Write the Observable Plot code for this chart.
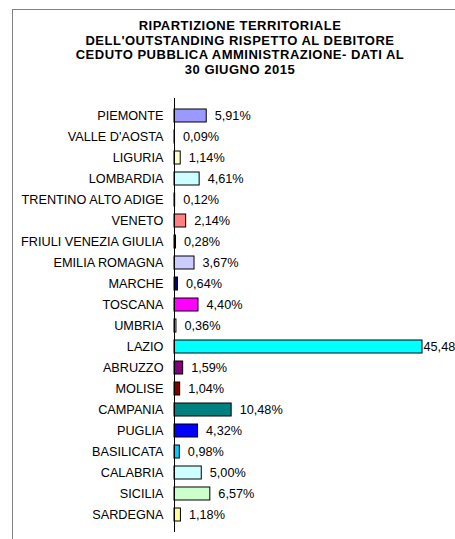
<!DOCTYPE html>
<html>
<head>
<meta charset="utf-8">
<script src="https://cdn.jsdelivr.net/npm/d3@7"></script>
<script src="https://cdn.jsdelivr.net/npm/@observablehq/plot@0.6"></script>
<style>
  body { margin: 0; background: #fff; }
  #wrap { position: relative; width: 455px; height: 539px; overflow: hidden; font-family: Arial, "Liberation Sans", sans-serif; }
  #frame { position: absolute; left: 12px; top: 9px; right: -2px; bottom: -2px; border-top: 1px solid #808080; border-left: 1px solid #808080; }
  #title { position: absolute; left: 20px; width: 440px; top: 19px; text-align: center; font-weight: bold; font-size: 13px; line-height: 14.5px; letter-spacing: 0.5px; color: #000; }
  #chart { position: absolute; left: 0; top: 0; }
</style>
</head>
<body>
<div id="wrap">
  <div id="frame"></div>
  <div id="title">RIPARTIZIONE TERRITORIALE<br>DELL'OUTSTANDING RISPETTO AL DEBITORE<br>CEDUTO PUBBLICA AMMINISTRAZIONE- DATI AL<br>30 GIUGNO 2015</div>
  <div id="chart"></div>
</div>
<script>
const regions = ["PIEMONTE","VALLE D'AOSTA","LIGURIA","LOMBARDIA","TRENTINO ALTO ADIGE","VENETO","FRIULI VENEZIA GIULIA","EMILIA ROMAGNA","MARCHE","TOSCANA","UMBRIA","LAZIO","ABRUZZO","MOLISE","CAMPANIA","PUGLIA","BASILICATA","CALABRIA","SICILIA","SARDEGNA"];
const values = [5.91,0.09,1.14,4.61,0.12,2.14,0.28,3.67,0.64,4.40,0.36,45.48,1.59,1.04,10.48,4.32,0.98,5.00,6.57,1.18];
const colors = ["#9999FF","#993366","#FFFFCC","#CCFFFF","#660066","#FF8080","#0066CC","#CCCCFF","#000080","#FF00FF","#FFFF00","#00FFFF","#800080","#800000","#008080","#0000FF","#00CCFF","#CCFFFF","#CCFFCC","#FFFF99"];

const data = regions.map((r, i) => ({region: r, value: values[i], color: colors[i]}));
const fmt = v => v.toFixed(2).replace(".", ",") + "%";
const maxV = d3.max(values);

const chart = Plot.plot({
  width: 455,
  height: 539,
  marginLeft: 174,
  marginRight: 33,
  marginTop: 98,
  marginBottom: 7,
  style: {fontFamily: "Arial, 'Liberation Sans', sans-serif", fontSize: "12.7px", color: "#000", background: "transparent", overflow: "hidden"},
  x: {domain: [0, maxV], axis: null},
  y: {domain: regions, paddingInner: 0.37, paddingOuter: 0.185, axis: null},
  color: {type: "identity"},
  marks: [
    Plot.barX(data, {x: "value", y: "region", fill: "color", stroke: "#000", strokeWidth: 1}),
    Plot.ruleX([0], {stroke: "#000", strokeWidth: 1}),
    Plot.axisY({tickSize: 0, tickPadding: 11, fontSize: 12.7, label: null}),
    Plot.text(data.filter(d => d.value < maxV), {x: "value", y: "region", text: d => fmt(d.value), dx: 8, textAnchor: "start", fontSize: 12.7, fill: "#000"}),
    Plot.text(data.filter(d => d.value === maxV), {x: "value", y: "region", text: d => fmt(d.value), dx: 1, textAnchor: "start", fontSize: 12.7, fill: "#000"})
  ]
});
document.getElementById("chart").appendChild(chart);
</script>
</body>
</html>
